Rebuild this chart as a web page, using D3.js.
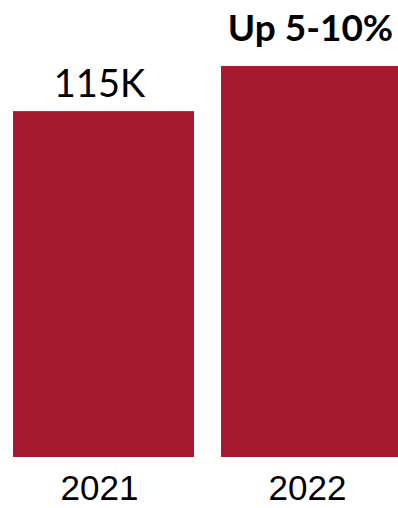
<!DOCTYPE html>
<html><head><meta charset="utf-8">
<script src="https://cdn.jsdelivr.net/npm/d3@7"></script>
<style>html,body{margin:0;padding:0;background:#fff;overflow:hidden}</style>
</head><body>
<svg id="chart" width="398" height="508"></svg>
<script>
const categories = ["2021", "2022"];
const values = [115, 130];
const valueLabels = ["115K", "Up 5-10%"];
const labelBold = [false, true];

const svg = d3.select("#chart");
const x = d3.scaleBand().domain(categories).range([13, 402]).paddingInner(0.13).paddingOuter(0);
const y = d3.scaleLinear().domain([0, 130]).range([457, 66]);

svg.selectAll("rect.bar").data(categories).join("rect")
  .attr("class", "bar")
  .attr("x", d => x(d))
  .attr("width", x.bandwidth())
  .attr("y", (d, i) => y(values[i]))
  .attr("height", (d, i) => y(0) - y(values[i]))
  .attr("fill", "#A61A30");

svg.selectAll("text.val").data(categories).join("text")
  .attr("class", "val")
  .attr("x", (d, i) => x(d) + x.bandwidth() / 2 - (labelBold[i] ? 1 : 4))
  .attr("y", (d, i) => y(values[i]) - (labelBold[i] ? 25 : 14))
  .attr("text-anchor", "middle")
  .attr("font-family", "Lato, 'Open Sans', sans-serif")
  .attr("font-weight", (d, i) => labelBold[i] ? 700 : 400)
  .attr("font-size", (d, i) => labelBold[i] ? 37 : 38)
  .attr("fill", "#000")
  .text((d, i) => valueLabels[i]);

const xAxis = d3.axisBottom(x).tickSize(0).tickPadding(0);
const gx = svg.append("g").attr("transform", "translate(-4,0)").call(xAxis);
gx.select(".domain").remove();
gx.selectAll("text")
  .attr("y", 0)
  .attr("dy", 0)
  .attr("transform", "translate(0,500)")
  .attr("font-family", "'Liberation Sans', Arial, sans-serif")
  .attr("font-size", 35)
  .attr("fill", "#000");
</script>
</body></html>
